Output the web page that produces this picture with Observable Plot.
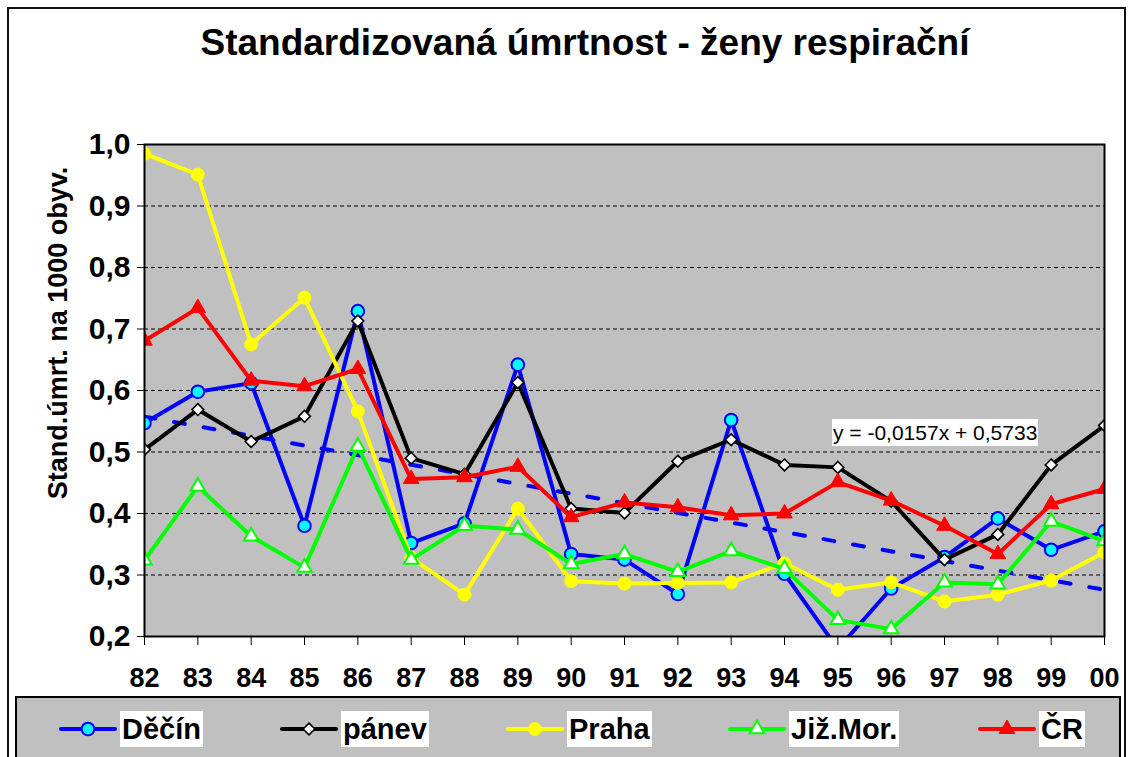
<!DOCTYPE html>
<html><head><meta charset="utf-8">
<script src="https://cdn.jsdelivr.net/npm/d3@7"></script>
<script src="https://cdn.jsdelivr.net/npm/@observablehq/plot@0.6"></script>
<style>
body{margin:0;width:1132px;height:757px;overflow:hidden;background:#fff;position:relative;font-family:Arial,"Liberation Sans",sans-serif;}
#frame{position:absolute;left:7px;top:7px;width:1119px;height:820px;border:2px solid #111;box-sizing:border-box;}
#title{position:absolute;left:0;top:24px;width:1170px;text-align:center;font-size:37px;font-weight:bold;line-height:37px;white-space:nowrap;}
#chart{position:absolute;left:0;top:0;}
#ytitle{position:absolute;left:-192px;top:318px;width:500px;height:30px;line-height:30px;text-align:center;font-size:27px;font-weight:bold;transform:rotate(-90deg);white-space:nowrap;}
#eq{position:absolute;left:832px;top:419px;height:27px;line-height:27px;padding:0 1px;background:#fff;font-size:21px;white-space:nowrap;}
#legend{position:absolute;left:15px;top:696px;width:1106px;height:100px;border:2px solid #000;box-sizing:border-box;background:#c0c0c0;}
#legend .entry{position:absolute;top:13px;display:flex;align-items:center;}
#legend .lab{background:#fff;font-size:29px;font-weight:bold;line-height:36px;padding:0 2px;margin-left:3px;white-space:nowrap;}
</style>
</head><body>
<div id="frame"></div>
<div id="chart"></div>
<div id="title">Standardizovaná úmrtnost - ženy respirační</div>
<div id="ytitle">Stand.úmrt. na 1000 obyv.</div>
<div id="eq"></div>
<div id="legend"></div>
<script>
// ---- data ----
const years = ["82","83","84","85","86","87","88","89","90","91","92","93","94","95","96","97","98","99","00"];
const decin  = [0.547,0.598,0.612,0.380,0.729,0.352,0.384,0.642,0.334,0.325,0.269,0.552,0.302,0.180,0.278,0.329,0.392,0.341,0.371];
const panev  = [0.504,0.569,0.517,0.558,0.713,0.490,0.464,0.613,0.408,0.401,0.485,0.520,0.479,0.475,0.420,0.325,0.366,0.479,0.543];
const praha  = [0.985,0.951,0.675,0.751,0.566,0.328,0.268,0.408,0.290,0.286,0.287,0.288,0.319,0.276,0.288,0.257,0.268,0.291,0.337];
const jizmor = [0.324,0.444,0.363,0.312,0.509,0.325,0.380,0.374,0.318,0.334,0.305,0.339,0.310,0.227,0.212,0.288,0.285,0.387,0.355];
const cr     = [0.681,0.734,0.616,0.607,0.635,0.456,0.459,0.476,0.394,0.418,0.410,0.397,0.400,0.451,0.421,0.380,0.334,0.415,0.440];
const seriesNames = ["Děčín","pánev","Praha","Již.Mor.","ČR"];
const yTicks = [0.2,0.3,0.4,0.5,0.6,0.7,0.8,0.9,1.0];
const equationText = "y = -0,0157x + 0,5733";

// ---- styles / layout ----
const styles = [
  {line:"#0000ff", symbol:"circle",   fill:"#00ffff", stroke:"#0000ff", r:6.3, sw:2},
  {line:"#000000", symbol:"diamond2", fill:"#ffffff", stroke:"#000000", r:5.3, sw:1.6},
  {line:"#ffff00", symbol:"circle",   fill:"#ffff00", stroke:"#ffff00", r:6.5, sw:1},
  {line:"#00ff00", symbol:"triangle", fill:"#ffffff", stroke:"#00ff00", r:5.4, sw:2},
  {line:"#ff0000", symbol:"triangle", fill:"#ff0000", stroke:"#ff0000", r:5.8, sw:1}
];
const legendLeft = [42, 263, 489, 711, 961];

const allValues = [decin, panev, praha, jizmor, cr];
const rowsOf = vals => vals.map((v, i) => ({i, v}));

const marks = [
  Plot.frame({fill:"#c0c0c0"}),
  Plot.gridY({ticks: yTicks.filter(t => t > 0.25 && t < 0.95), stroke:"#000", strokeOpacity:1, strokeWidth:1, strokeDasharray:"4,3"}),
  Plot.axisY({ticks: yTicks, tickFormat: d => d.toFixed(1).replace(".", ","), tickSize:7, tickPadding:7, stroke:"#000", fontSize:30}),
  Plot.axisX({ticks: d3.range(years.length), tickFormat: i => years[i], tickSize:9, tickPadding:22, stroke:"#000", fontSize:27})
];
allValues.forEach((vals, k) => {
  const s = styles[k];
  const data = rowsOf(vals);
  marks.push(Plot.line(data, {x:"i", y:"v", stroke:s.line, strokeWidth:4, clip:true}));
  if (k === 0) {
    marks.push(Plot.linearRegressionY(data, {x:"i", y:"v", stroke:"#0000ff", strokeWidth:4, strokeDasharray:"11,19", ci:0, clip:true}));
  }
  marks.push(Plot.dot(data, {x:"i", y:"v", symbol:s.symbol, r:s.r, fill:s.fill, stroke:s.stroke, strokeWidth:s.sw, clip:true}));
});
marks.push(Plot.frame({stroke:"#000", strokeWidth:2}));

const plot = Plot.plot({
  width:1132, height:696,
  marginLeft:144, marginRight:28, marginTop:144, marginBottom:60,
  x:{type:"linear", domain:[0, years.length - 1], label:null},
  y:{domain:[0.2, 1.0], label:null},
  style:{background:"transparent", fontFamily:"Arial, 'Liberation Sans', sans-serif", fontSize:"27px", fontWeight:"bold", color:"#000", overflow:"visible"},
  marks
});
document.getElementById("chart").appendChild(plot);
document.getElementById("eq").textContent = equationText;

// ---- legend ----
const symMap = {circle:d3.symbolCircle, diamond2:d3.symbolDiamond2, triangle:d3.symbolTriangle};
const legend = d3.select("#legend");
seriesNames.forEach((name, k) => {
  const s = styles[k];
  const e = legend.append("div").attr("class","entry").style("left", legendLeft[k] + "px");
  const svg = e.append("svg").attr("width",58).attr("height",24);
  svg.append("line").attr("x1",2).attr("x2",56).attr("y1",12).attr("y2",12).attr("stroke",s.line).attr("stroke-width",4).attr("stroke-linecap","round");
  svg.append("path").attr("transform","translate(29,12)")
    .attr("d", d3.symbol(symMap[s.symbol], Math.PI * s.r * s.r)())
    .attr("fill", s.fill).attr("stroke", s.stroke).attr("stroke-width", s.sw);
  e.append("span").attr("class","lab").text(name);
});
</script>
</body></html>
